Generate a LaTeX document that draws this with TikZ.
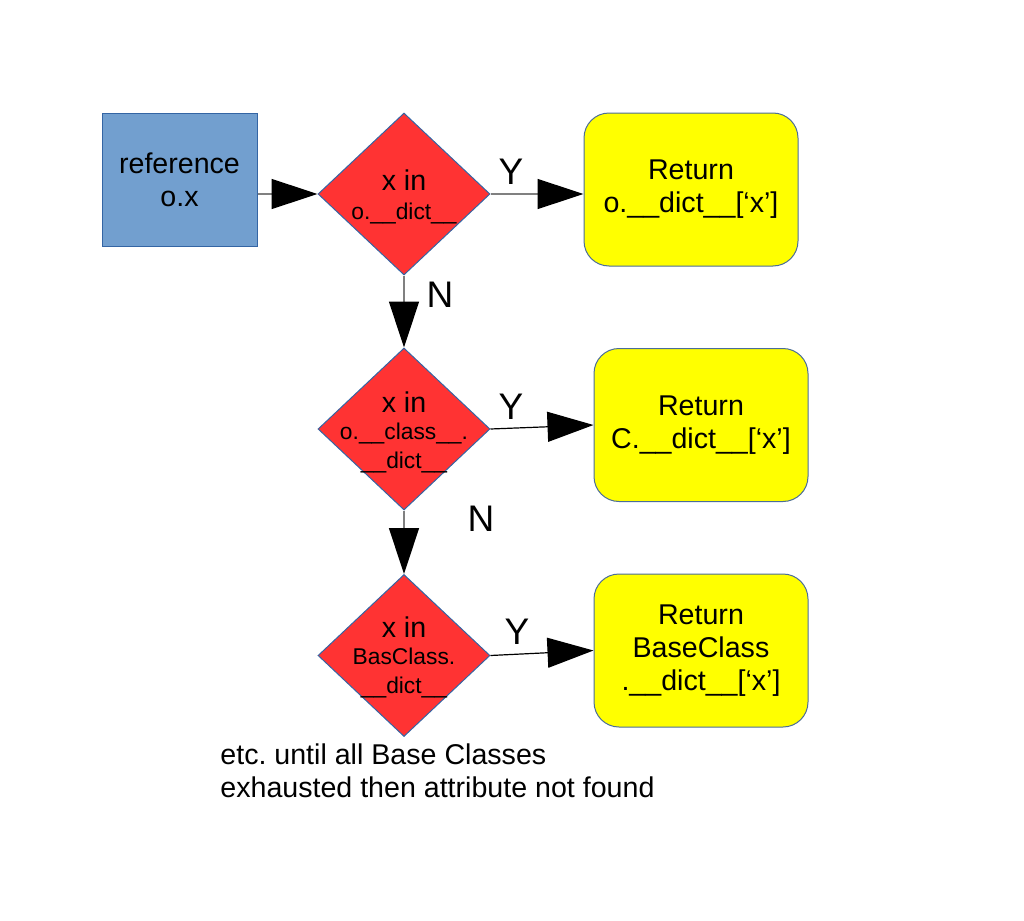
\documentclass[tikz,border=0pt]{standalone}
\usepackage{fontspec}
\setmainfont{Liberation Sans}
\usepackage{tikz}
\usetikzlibrary{
    positioning,
    arrows.meta,
    shapes.geometric
}
\definecolor{refBlue}{RGB}{114, 159, 207}
\definecolor{edgeBlue}{RGB}{52, 101, 164}
\definecolor{testRed}{RGB}{255, 51, 51}
\definecolor{retYellow}{RGB}{255, 255, 0}
\definecolor{lineGray}{RGB}{128, 128, 128}
\newcommand{\bigtxt}{\fontsize{14.3}{16.5}\selectfont}
\newcommand{\smalltxt}{\fontsize{11.4}{12.5}\selectfont}
\frenchspacing

\begin{document}
\begin{tikzpicture}[x=0.5pt, y=-0.5pt,
    refbox/.style={draw=edgeBlue, line width=0.5pt, fill=refBlue, minimum width=77.5pt, minimum height=66.5pt, inner sep=0pt},
    test/.style={diamond, draw=edgeBlue, line width=0.5pt, fill=testRed, minimum width=86pt, minimum height=81pt, inner sep=0pt},
    retbox/.style={draw=edgeBlue!70!gray, line width=0.5pt, fill=retYellow, rounded corners=12.5pt, minimum width=107pt, minimum height=76.5pt, inner sep=0pt},
    txt/.style={align=center, inner sep=0pt, font=\bigtxt},
    yn/.style={inner sep=0pt, font=\fontsize{18.5}{20}\selectfont},
    flow/.style={-{Triangle[length=23pt, width=15pt, black]}, line width=0.75pt, lineGray},
    flowdark/.style={-{Triangle[length=23pt, width=15pt, black]}, line width=0.6pt, black}
]
    \useasboundingbox (0,0) rectangle (1024,921);

    % boxes
    \node[refbox] (ref) at (179.5,179.5) {};
    \node[txt] (reftxt) at (ref) {reference\\o.x};

    \node[test] (d1) at (404,194) {};
    \node[txt] (d1txt) at (404,197) {x in\\[-2pt]{\smalltxt o.\_\_dict\_\_}};
    \node[test] (d2) at (404,429) {};
    \node[txt] (d2txt) at (404,432) {x in\\[-3pt]{\smalltxt o.\_\_class\_\_.}\\[-2pt]{\smalltxt \_\_dict\_\_}};
    \node[test] (d3) at (404,655.5) {};
    \node[txt] (d3txt) at (404,657) {x in\\[-3pt]{\smalltxt BasClass.}\\[-2pt]{\smalltxt \_\_dict\_\_}};

    \node[retbox] (r1) at (691,189.5) {};
    \node[txt] (r1txt) at (r1) {Return\\o.\_\_dict\_\_[‘x’]};
    \node[retbox] (r2) at (701,425) {};
    \node[txt] (r2txt) at (r2) {Return\\C.\_\_dict\_\_[‘x’]};
    \node[retbox] (r3) at (701,650.5) {};
    \node[txt] (r3txt) at (r3) {Return\\BaseClass\\.\_\_dict\_\_[‘x’]};

    % connectors
    \draw[flow] (ref.east |- d1.west) -- (d1.west);
    \draw[flow] (d1.east) -- (r1.west |- d1.east);
    \draw[flow] (d1.south) -- (d2.north);
    \draw[flowdark] (d2.east) -- (r2.west);
    \draw[flow] (d2.south) -- (d3.north);
    \draw[flowdark] (d3.east) -- (r3.west);

    % answers
    \node[yn] (y1) at (511,172) {Y};
    \node[yn] (y2) at (511,407) {Y};
    \node[yn] (y3) at (517,632) {Y};
    \node[yn] (n1) at (440,295) {N};
    \node[yn] (n2) at (481,519) {N};

    \node[txt, align=left, anchor=north west] (note) at (220,743) {etc. until all Base Classes\\exhausted then attribute not found};
\end{tikzpicture}
\end{document}
